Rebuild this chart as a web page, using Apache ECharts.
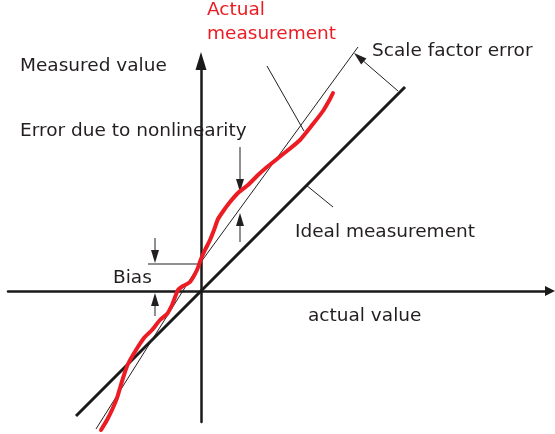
<!DOCTYPE html>
<html>
<head>
<meta charset="utf-8">
<script src="https://cdn.jsdelivr.net/npm/echarts@6/dist/echarts.min.js"></script>
<style>
html,body{margin:0;padding:0;background:#fff}
#chart{width:555px;height:434px}
</style>
</head>
<body>
<div id="chart"></div>
<script>
// axis ranges (arbitrary units, origin where the axes cross)
var xRange = [-19.3, 34.9];
var yRange = [-13.1, 23.0];

// ideal measurement: measured = actual
var idealX = [-12.5, 20.4];
var idealY = [-12.5, 20.4];

// straight line with bias + scale factor error
var thinX = [-10.5, 0, 15.7];
var thinY = [-13.8, 2.9, 24.4];

// actual measurement (red, wobbly)
var redX = [-10.0, -9.4, -8.9, -8.4, -8.1, -7.7, -7.3, -6.5, -5.7, -4.9, -4.1, -3.4, -2.9, -2.3, -1.8, -1.1, -0.4, 0.0,
            0.4, 0.9, 1.3, 1.7, 2.3, 2.9, 3.7, 4.7, 5.7, 6.6, 7.6, 8.6, 9.9, 11.2, 12.2, 12.9, 13.2];
var redY = [-13.9, -12.9, -11.9, -10.7, -9.7, -8.4, -7.3, -5.9, -4.7, -3.9, -2.9, -2.3, -1.4, 0.1, 0.5, 0.9, 2.1, 3.2,
            4.1, 5.1, 6.1, 7.2, 8.1, 8.9, 9.8, 10.6, 11.6, 12.4, 13.2, 14.0, 15.1, 16.7, 18.0, 19.2, 19.8];

// annotation arrows: [fromX, fromY, tipX, tipY]
var arrows = [
  [19.7, 20.0, 15.3, 23.8],   // scale factor error
  [3.9, 14.4, 3.9, 9.9],      // nonlinearity, from above
  [3.9, 4.9, 3.9, 7.8],       // nonlinearity, from below
  [-4.6, 5.3, -4.6, 2.8],     // bias, from above
  [-4.6, -2.5, -4.6, -0.2]    // bias, from below
];

// plain leader lines: [x1, y1, x2, y2]
var leaders = [
  [6.6, 22.5, 10.3, 16.0],    // actual measurement label
  [10.5, 10.6, 13.2, 8.4],    // ideal measurement label
  [-5.3, 2.7, 0, 2.7]         // bias level
];

// labels
var labelText = ['Actual', 'measurement', 'Measured value', 'Scale factor error', 'Error due to nonlinearity',
                 'Ideal measurement', 'Bias', 'actual value'];
var labelPos = [[0.6, 28.1], [0.6, 25.7], [-18.1, 22.5], [17.1, 24.0], [-18.1, 16.0],
                [9.4, 5.9], [-8.8, 1.3], [10.7, -2.5]];
var labelRed = [true, true, false, false, false, false, false, false];

var ink = '#231f20';
var red = '#ec1c24';

function pairs(xs, ys) {
  return xs.map(function (x, i) { return [x, ys[i]]; });
}

function renderArrow(params, api) {
  var s = api.coord([api.value(0), api.value(1)]);
  var t = api.coord([api.value(2), api.value(3)]);
  var dx = t[0] - s[0], dy = t[1] - s[1];
  var len = Math.sqrt(dx * dx + dy * dy);
  var ux = dx / len, uy = dy / len;
  var hl = 13, hw = 4;
  var b = [t[0] - ux * hl, t[1] - uy * hl];
  return {
    type: 'group',
    children: [
      {type: 'line', shape: {x1: s[0], y1: s[1], x2: b[0], y2: b[1]}, style: {stroke: ink, lineWidth: 1}},
      {type: 'polygon', shape: {points: [t, [b[0] - uy * hw, b[1] + ux * hw], [b[0] + uy * hw, b[1] - ux * hw]]},
       style: {fill: ink}}
    ]
  };
}

function renderLeader(params, api) {
  var s = api.coord([api.value(0), api.value(1)]);
  var t = api.coord([api.value(2), api.value(3)]);
  return {type: 'line', shape: {x1: s[0], y1: s[1], x2: t[0], y2: t[1]}, style: {stroke: ink, lineWidth: 1}};
}

function renderLabel(params, api) {
  var p = api.coord([api.value(0), api.value(1)]);
  var i = api.value(2);
  return {
    type: 'text',
    x: p[0], y: p[1],
    style: {
      text: labelText[i],
      fill: labelRed[i] ? red : ink,
      font: '18.5px "DejaVu Sans"',
      align: 'left',
      verticalAlign: 'middle'
    }
  };
}

var chart = echarts.init(document.getElementById('chart'));
var axisCommon = {
  type: 'value',
  axisTick: {show: false},
  axisLabel: {show: false},
  splitLine: {show: false}
};

chart.setOption({
  animation: false,
  backgroundColor: '#fff',
  grid: {left: 8, right: 5, top: 61, bottom: 12},
  xAxis: Object.assign({}, axisCommon, {
    min: xRange[0], max: xRange[1],
    axisLine: {onZero: true, symbol: ['none', 'triangle'], symbolSize: [10, 10],
               lineStyle: {color: '#1a1a1a', width: 2.5}}
  }),
  yAxis: Object.assign({}, axisCommon, {
    min: yRange[0], max: yRange[1],
    axisLine: {onZero: true, symbol: ['none', 'triangle'], symbolSize: [11, 18],
               lineStyle: {color: '#1a1a1a', width: 2.5}}
  }),
  series: [
    {
      type: 'line', data: pairs(idealX, idealY), symbol: 'none', clip: false, z: 3,
      lineStyle: {color: '#1a1a1a', width: 3}
    },
    {
      type: 'line', data: pairs(thinX, thinY), symbol: 'none', clip: false, z: 3,
      lineStyle: {color: ink, width: 1}
    },
    {
      type: 'custom', renderItem: renderLeader, data: leaders, clip: false, z: 3,
      encode: {x: [0, 2], y: [1, 3]}
    },
    {
      type: 'custom', renderItem: renderArrow, data: arrows, clip: false, z: 3,
      encode: {x: [0, 2], y: [1, 3]}
    },
    {
      type: 'line', data: pairs(redX, redY), symbol: 'none', clip: false, z: 5, smooth: 0.2,
      lineStyle: {color: red, width: 4, cap: 'round', join: 'round'}
    },
    {
      type: 'custom', renderItem: renderLabel, clip: false, z: 6,
      data: labelPos.map(function (p, i) { return [p[0], p[1], i]; }),
      encode: {x: 0, y: 1}
    }
  ]
});
</script>
</body>
</html>
